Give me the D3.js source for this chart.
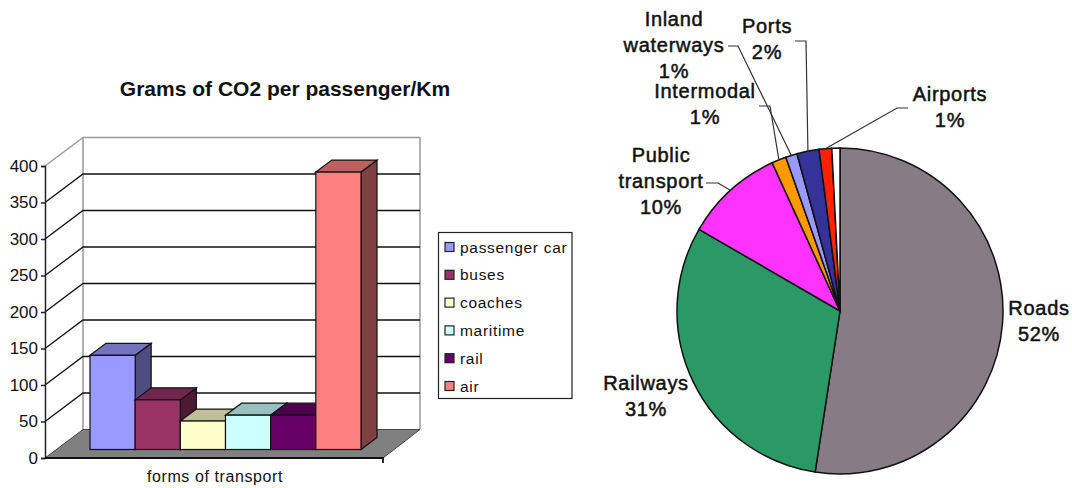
<!DOCTYPE html>
<html><head><meta charset="utf-8">
<script src="https://cdn.jsdelivr.net/npm/d3@7"></script>
<style>html,body{margin:0;background:#fff}svg{display:block}text{font-family:"Liberation Sans",Arial,sans-serif;fill:#111}</style>
</head><body><div id="c"></div>
<script>
const barCategories=["passenger car","buses","coaches","maritime","rail","air"];
const barValues=[129,68,39,47,47,380];
const barColors=["#9999FF","#993366","#FFFFCC","#CCFFFF","#660066","#FF8080"];
const yTicks=[0,50,100,150,200,250,300,350,400];
const pieNames=["Roads","Railways","Public transport","Intermodal","Inland waterways","Ports","Airports","Other"];
const pieValues=[52.4,30.9,9.8,1.44,1.14,2.2,1.25,0.8];
const pieColors=["#877C85","#2A9965","#FF33FF","#FF9900","#9999FF","#333399","#FF2200","#FFFFFF"];
const pieLabels=[
 {i:0,x:1039,y:315,lines:["Roads","52%"]},
 {i:1,x:646,y:390,lines:["Railways","31%"]},
 {i:2,x:661,y:162,lines:["Public","transport","10%"],elbow:[[706,183],[718,183]]},
 {i:3,x:705,y:98,lines:["Intermodal","1%"],elbow:[[759,106],[770,106]]},
 {i:4,x:674,y:26,lines:["Inland","waterways","1%"],elbow:[[728,46],[738,46]]},
 {i:5,x:767,y:33,lines:["Ports","2%"],elbow:[[795,41],[806,41]]},
 {i:6,x:950,y:101,lines:["Airports","1%"],elbow:[[908,108],[897,108]]}
];
const svg=d3.select("#c").append("svg").attr("width",1072).attr("height",488);
const y=d3.scaleLinear().domain([0,400]).range([458,166]);
const x=d3.scaleBand().domain(barCategories).range([90,361]);
const L=45,R=383,dx=38,dy=-28.5,bdx=16,bdy=-12,bo=y(0)-449.5;
const g=svg.append("g");
// walls
g.append("line").attr("x1",L+dx).attr("x2",L+dx).attr("y1",y(400)+dy).attr("y2",y(0)+dy).attr("stroke","#999").attr("stroke-width",1.5);
g.append("line").attr("x1",R+dx-1).attr("x2",R+dx-1).attr("y1",y(400)+dy).attr("y2",y(0)+dy).attr("stroke","#999").attr("stroke-width",1.5);
g.append("line").attr("x1",L).attr("y1",y(400)).attr("x2",L+dx).attr("y2",y(400)+dy).attr("stroke","#999").attr("stroke-width",1.5);
g.append("line").attr("x1",L+dx).attr("x2",R+dx-1).attr("y1",y(400)+dy).attr("y2",y(400)+dy).attr("stroke","#999").attr("stroke-width",1.5);
g.selectAll(".grid").data(yTicks.filter(t=>t>0&&t<400)).join("path").attr("fill","none").attr("stroke","#111").attr("stroke-width",1.3)
 .attr("d",t=>`M${L},${y(t)}L${L+dx},${y(t)+dy}H${R+dx-1}`);
// floor
g.append("path").attr("fill","#808080").attr("stroke","#444")
 .attr("d",`M${L},${y(0)}L${L+dx},${y(0)+dy}H${R+dx-1}L${R},${y(0)}Z`);
// bars
const mix=(c,k)=>{const r=d3.rgb(c);return d3.rgb(r.r*k,r.g*k,r.b*k).formatHex()};
const bars=g.selectAll(".bar").data(barCategories.map((c,i)=>({c,v:barValues[i],col:barColors[i]}))).join("g");
bars.each(function(d){
 const s=d3.select(this),x0=x(d.c),x1=x0+x.bandwidth(),t=y(d.v)-bo,b=y(0)-bo;
 s.append("path").attr("fill",mix(d.col,.5)).attr("stroke","#111").attr("stroke-width",1.2).attr("d",`M${x1},${t}l${bdx},${bdy}V${b+bdy}L${x1},${b}Z`);
 s.append("path").attr("fill",mix(d.col,.75)).attr("stroke","#111").attr("stroke-width",1.2).attr("d",`M${x0},${t}l${bdx},${bdy}H${x1+bdx}L${x1},${t}Z`);
 s.append("rect").attr("x",x0).attr("y",t).attr("width",x.bandwidth()).attr("height",b-t).attr("fill",d.col).attr("stroke","#111").attr("stroke-width",1.2);
});
// axes
const ax=svg.append("g").attr("transform",`translate(${L},0)`).call(d3.axisLeft(y).tickValues(yTicks).tickSize(4).tickPadding(3));
ax.selectAll("path,line").attr("stroke","#222").attr("stroke-width",1.5);
ax.selectAll("text").attr("font-size",17).attr("fill","#111").style("font-family",'"Liberation Sans",Arial,sans-serif');
svg.append("path").attr("stroke","#111").attr("stroke-width",1.8).attr("fill","none").attr("d",`M${L},${y(0)}H${R}v5`);
svg.append("text").attr("x",215).attr("y",482).attr("text-anchor","middle").attr("font-size",16).attr("letter-spacing",.6).text("forms of transport");
svg.append("text").attr("x",285).attr("y",96).attr("text-anchor","middle").attr("font-size",21).attr("font-weight","bold").text("Grams of CO2 per passenger/Km");
// legend
const lg=svg.append("g");
lg.append("rect").attr("x",438.5).attr("y",232.5).attr("width",133.5).attr("height",166).attr("fill","#fff").attr("stroke","#222").attr("stroke-width",1.2);
const ly=d3.scalePoint().domain(barCategories).range([247,386]);
const li=lg.selectAll(".li").data(barCategories).join("g").attr("transform",c=>`translate(0,${ly(c)})`);
li.append("rect").attr("x",445).attr("y",-4.5).attr("width",9).attr("height",9).attr("fill",(c,i)=>barColors[i]).attr("stroke","#222").attr("stroke-width",1.2);
li.append("text").attr("x",460).attr("y",5.5).attr("font-size",15.5).attr("letter-spacing",.7).text(c=>c);
// pie
const cx=840,cy=311,r=163;
const pie=d3.pie().sort(null)(pieValues);
const arc=d3.arc().innerRadius(0).outerRadius(r);
const pg=svg.append("g").attr("transform",`translate(${cx},${cy})`);
pg.selectAll("path").data(pie).join("path").attr("d",arc).attr("fill",(d,i)=>pieColors[i]).attr("stroke","#111").attr("stroke-width",1.5);
pieLabels.forEach(l=>{
 const t=svg.append("text").attr("text-anchor","middle").attr("font-size",20).attr("letter-spacing",.7).attr("stroke","#111").attr("stroke-width",.5);
 l.lines.forEach((s,j)=>t.append("tspan").attr("x",l.x).attr("y",l.y+j*26).text(s));
 if(l.elbow){
  const a=(pie[l.i].startAngle+pie[l.i].endAngle)/2;
  const end=[cx+Math.sin(a)*r,cy-Math.cos(a)*r];
  svg.append("path").attr("fill","none").attr("stroke","#333").attr("stroke-width",1.2).attr("d",d3.line()([...l.elbow,end]));
 }
});
</script></body></html>
